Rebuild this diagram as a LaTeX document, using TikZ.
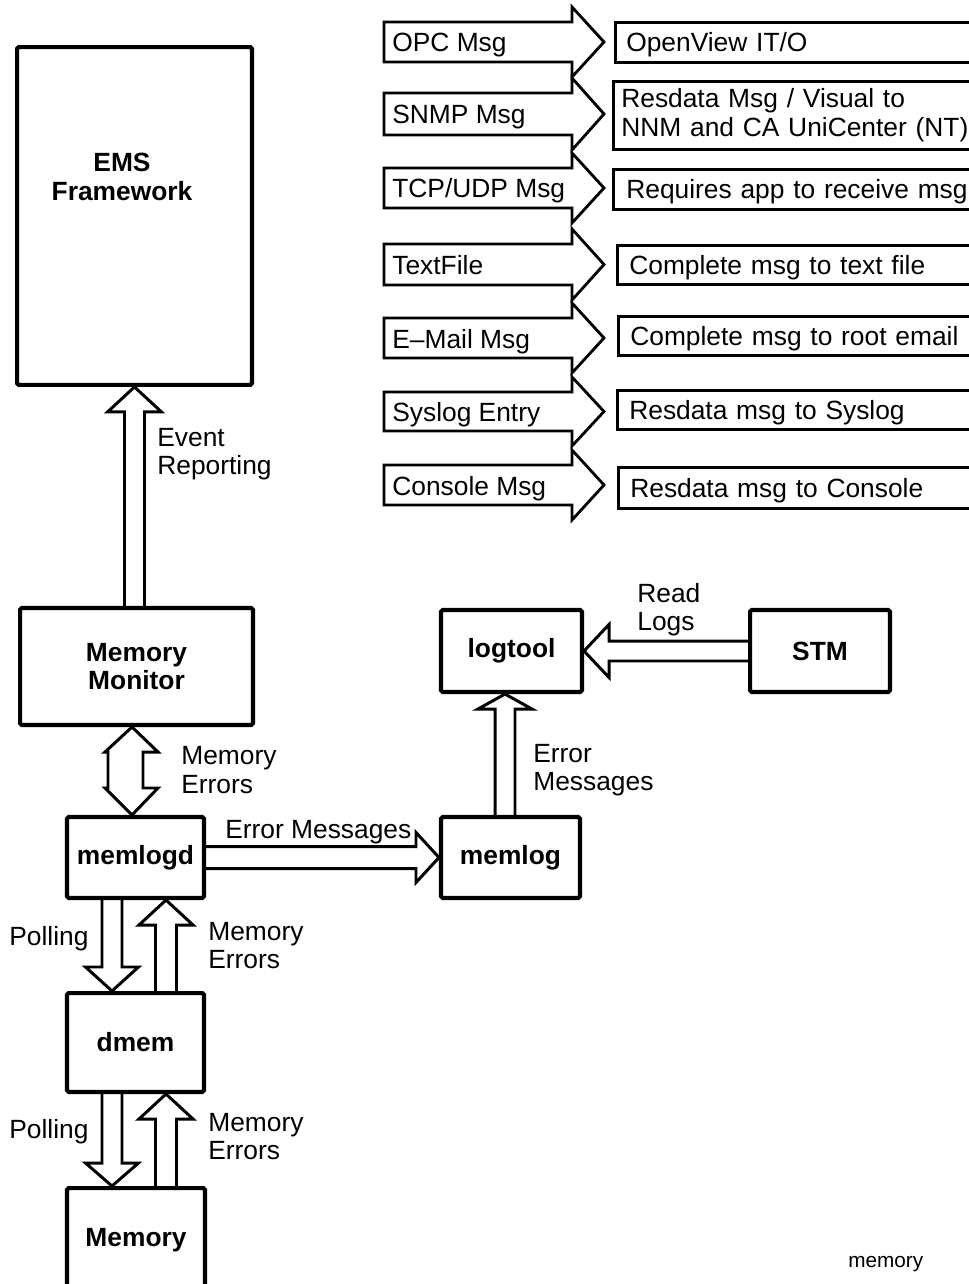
\documentclass[tikz,border=0pt]{standalone}
\usepackage{fontspec}
\setmainfont{Liberation Sans}
\usetikzlibrary{calc}

\newcommand{\labfont}{\fontsize{15pt}{16.2pt}\selectfont}

% Hollow block arrow from #1 to #2 (tip at #2): shaft half width #3,
% head half width #4, head length #5. The tail end is left open.
\newcommand{\blockarrow}[5]{%
  \coordinate (bas) at #1;
  \coordinate (bae) at #2;
  \coordinate (bah) at ($(bae)!#5!(bas)$);
  \draw[flow] ($(bas)!#3!90:(bae)$) -- ($(bah)!#3!90:(bae)$)
    -- ($(bah)!#4!90:(bae)$) -- (bae) -- ($(bah)!#4!-90:(bae)$)
    -- ($(bah)!#3!-90:(bae)$) -- ($(bas)!#3!-90:(bae)$);
}

% Message-type arrow with its caption inside: #1 name, #2 body top, #3 body bottom, #4 caption
\newcommand{\msgarrow}[4]{%
  \draw[msgshape] (384,#2) -- (572,#2) -- (572,#2-15) -- (604,{(#2+#3)/2})
    -- (572,#3+15) -- (572,#3) -- (384,#3) -- cycle;
  \node[msgtext] (#1) at (392,{(#2+#3)/2+10}) {#4};
}

\begin{document}
\begin{tikzpicture}[x=0.02cm, y=-0.02cm,
  box/.style={draw, line width=2.3pt, rounded corners=1pt, inner sep=0pt,
    font=\labfont\bfseries, align=center},
  flow/.style={line width=1.7pt, line join=miter},
  msgshape/.style={draw, line width=1.6pt, line join=miter},
  msgtext/.style={anchor=base west, inner sep=0pt, font=\labfont},
  rbox/.style={draw, line width=1.5pt, anchor=north west, inner xsep=0.24cm,
    inner ysep=0pt, text width=7cm, align=left, font=\labfont,
    text height=0.38cm, text depth=0pt},
  lbl/.style={anchor=west, inner sep=0pt, align=left, font=\labfont},
]
\useasboundingbox (0,0) rectangle (969,1284);

% ---- process boxes ----
\node[box, minimum width=4.70cm, minimum height=6.76cm] (ems) at (134.5,216) {};
\node[inner sep=0pt, align=center, font=\labfont\bfseries] (emstxt) at (122,177) {EMS\\Framework};
\node[box, minimum width=4.66cm, minimum height=2.34cm] (mm) at (136.5,666.5) {Memory\\Monitor};
\node[box, minimum width=2.74cm, minimum height=1.62cm] (memlogd) at (135.5,857.5) {memlogd};
\node[box, minimum width=2.74cm, minimum height=1.98cm] (dmem) at (135.5,1042.5) {dmem};
\node[box, minimum width=2.76cm, minimum height=2.08cm] (memory) at (136,1240) {Memory};
\node[box, minimum width=2.82cm, minimum height=1.64cm] (logtool) at (511.5,651) {logtool};
\node[box, minimum width=2.78cm, minimum height=1.62cm] (memlog) at (510.5,857.5) {memlog};
\node[box, minimum width=2.80cm, minimum height=1.64cm] (stm) at (820,651) {STM};

% ---- flows between the boxes ----
\coordinate (xpoll) at (112,0);
\coordinate (xerr) at (166,0);
\coordinate (xlog) at (505,0);
\coordinate (xdbl) at (132,0);

\blockarrow{(ems.south |- mm.north)}{(ems.south)}{0.2cm}{0.54cm}{0.5cm}
\blockarrow{(xpoll |- memlogd.south)}{(xpoll |- dmem.north)}{0.2cm}{0.53cm}{0.48cm}
\blockarrow{(xerr |- dmem.north)}{(xerr |- memlogd.south)}{0.21cm}{0.54cm}{0.5cm}
\blockarrow{(xpoll |- dmem.south)}{(xpoll |- memory.north)}{0.2cm}{0.53cm}{0.46cm}
\blockarrow{(xerr |- memory.north)}{(xerr |- dmem.south)}{0.21cm}{0.54cm}{0.5cm}
\blockarrow{(memlogd.east)}{(memlogd.east -| memlog.west)}{0.22cm}{0.5cm}{0.46cm}
\blockarrow{(xlog |- memlog.north)}{(xlog |- logtool.south)}{0.2cm}{0.54cm}{0.3cm}
\blockarrow{(stm.west)}{(logtool.east)}{0.2cm}{0.53cm}{0.5cm}

% two-way arrow between Memory Monitor and memlogd
\coordinate (dtop) at (xdbl |- mm.south);
\coordinate (dbot) at (xdbl |- memlogd.north);
\draw[flow] (dtop) -- ++(26,25) -- ++(-15,0) -- ($(dbot)+(11,-27)$) -- ++(15,0)
  -- (dbot) -- ++(-27,-27) -- ++(3,0) -- ($(dtop)+(-24,25)$) -- ++(-3,0) -- cycle;

% ---- flow labels ----
\node[lbl] (evt) at (157,454) {Event\\Reporting};
\node[lbl] (mmerr) at (181,770) {Memory\\Errors};
\node[lbl] (poll1) at (9,939) {Polling};
\node[lbl] (merr1) at (208,945.5) {Memory\\Errors};
\node[lbl] (poll2) at (9,1132) {Polling};
\node[lbl] (merr2) at (208,1136.5) {Memory\\Errors};
\node[lbl] (errmsg) at (225,832) {Error Messages};
\node[lbl] (errmsg2) at (533,770) {Error\\Messages};
\node[lbl] (readlogs) at (637,609.5) {Read\\Logs};

% ---- message types and their targets ----
\msgarrow{opc}{22}{62}{OPC Msg}
\msgarrow{snmp}{93}{135}{SNMP Msg}
\msgarrow{tcp}{168}{208}{TCP/UDP Msg}
\msgarrow{txt}{244}{285}{TextFile}
\msgarrow{mail}{318}{358}{E--Mail Msg}
\msgarrow{sys}{392}{431}{Syslog Entry}
\msgarrow{con}{465}{505}{Console Msg}

\node[rbox, minimum height=0.80cm, inner xsep=0.22cm] (ovo) at (614,21) {OpenView IT/O};
\node[draw, line width=1.5pt, anchor=north west, inner xsep=0.16cm, inner ysep=0pt,
  text width=7cm, align=left, font=\labfont, minimum height=1.36cm] (nnm) at (612,80)
  {Resdata Msg / Visual to\\NNM and CA UniCenter (NT)};
\node[rbox, minimum height=0.80cm, inner xsep=0.26cm] (app) at (612,168) {Requires app to receive msg};
\node[rbox, minimum height=0.78cm] (tfile) at (616,244) {Complete msg to text file};
\node[rbox, minimum height=0.78cm] (root) at (617,315) {Complete msg to root email};
\node[rbox, minimum height=0.78cm] (slog) at (616,389) {Resdata msg to Syslog};
\node[rbox, minimum height=0.82cm] (cons) at (617,466) {Resdata msg to Console};

% figure tag
\node[anchor=base west, inner sep=0pt, font=\fontsize{11.8pt}{14pt}\selectfont] (tag) at (848,1267) {memory};
\end{tikzpicture}
\end{document}
